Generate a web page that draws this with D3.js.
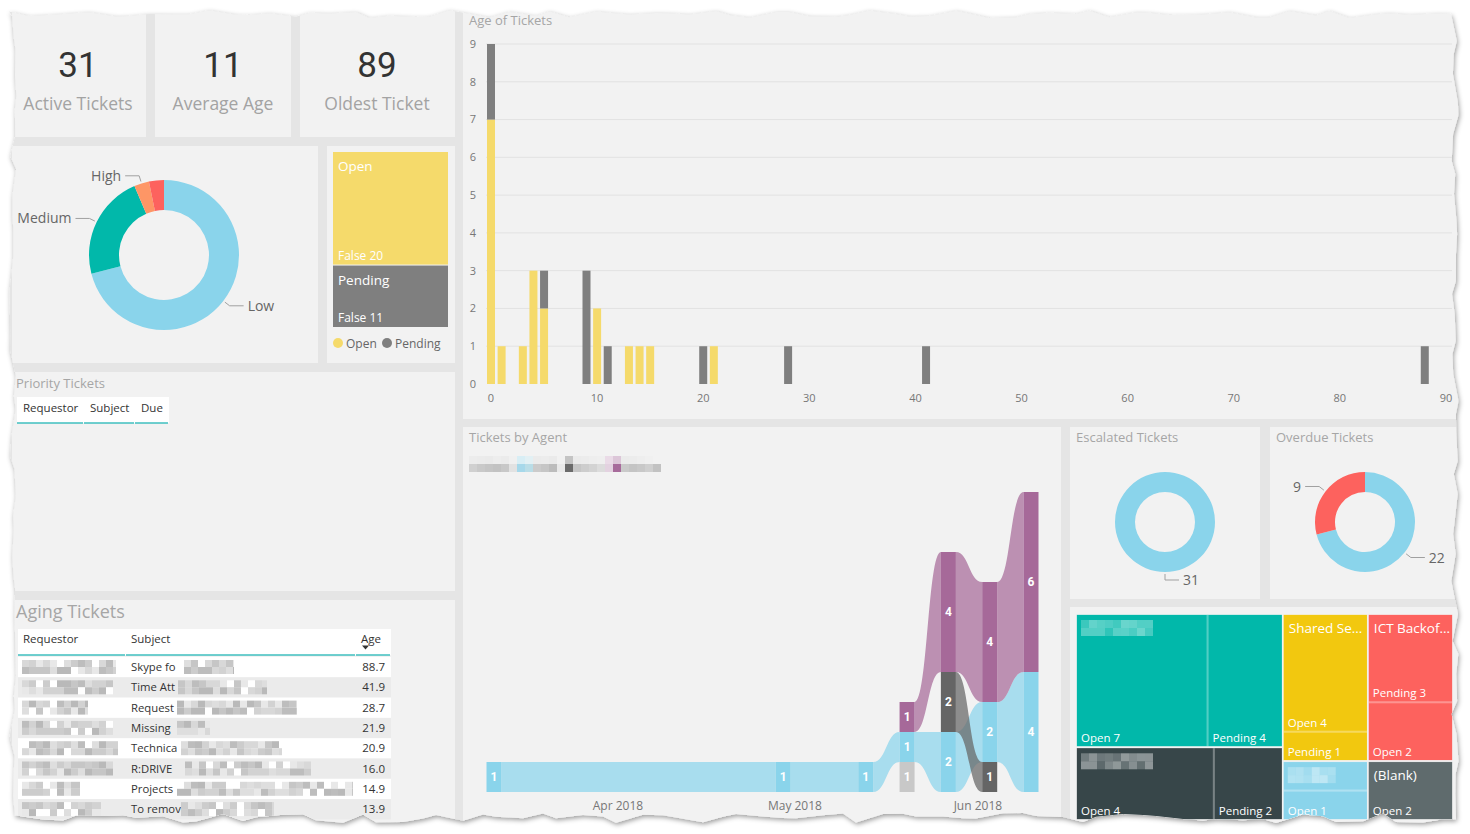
<!DOCTYPE html>
<html><head><meta charset="utf-8">
<script src="https://cdn.jsdelivr.net/npm/d3@7"></script>
<style>
html,body{margin:0;padding:0;background:#ffffff;}
svg{display:block;font-family:"Open Sans","Noto Sans",sans-serif;}
</style></head><body>
<svg id="chart" width="1470" height="834"></svg>
<script>
// ---------------- DATA ----------------
const kpiValues = [31, 11, 89];
const kpiLabels = ["Active Tickets", "Average Age", "Oldest Ticket"];

const priorityNames  = ["Low", "Medium", "High", "Critical"];
const priorityCounts = [22, 7, 1, 1];
const priorityShown  = [true, true, true, false];

const statusNames  = ["Open", "Pending"];
const statusSub    = ["False", "False"];
const statusCounts = [20, 11];

const ageBins    = [0, 1, 3, 4, 5, 9, 10, 11, 13, 14, 15, 20, 21, 28, 41, 88];
const ageOpen    = [7, 1, 1, 3, 2, 0, 2,  0,  1,  1,  1,  0,  1,  0,  0,  0];
const agePending = [2, 0, 0, 0, 1, 3, 0,  1,  0,  0,  0,  1,  0,  1,  1,  1];
const ageXTicks  = [0, 10, 20, 30, 40, 50, 60, 70, 80, 90];
const ageYTicks  = [0, 1, 2, 3, 4, 5, 6, 7, 8, 9];

const priorityColumns = ["Requestor", "Subject", "Due"];
const agingColumns    = ["Requestor", "Subject", "Age"];
const agingSubjects   = ["Skype fo", "Time Att", "Request", "Missing", "Technica", "R:DRIVE", "Projects", "To remov"];
const agingAges       = [88.7, 41.9, 28.7, 21.9, 20.9, 16.0, 14.9, 13.9];

const agentWeeks = ["2018-03-11", "2018-04-29", "2018-05-13", "2018-05-20", "2018-05-27", "2018-06-03", "2018-06-10"];
const agentD = [0, 0, 0, 1, 0, 0, 0];   // light grey agent
const agentA = [1, 1, 1, 1, 2, 2, 4];   // light blue agent
const agentC = [0, 0, 0, 0, 2, 1, 0];   // dark grey agent
const agentB = [0, 0, 0, 1, 4, 4, 6];   // purple agent

const escalatedCounts = [31];
const overdueNames  = ["On time", "Overdue"];
const overdueCounts = [22, 9];

const teamNames   = ["", "", "Shared Se...", "ICT Backof...", "", "(Blank)"];
const teamOpen    = [7, 4, 4, 2, 1, 2];
const teamPending = [4, 2, 1, 3, 1, 0];

// ---------------- STYLE ----------------
const C = {
  paper: "#e5e5e5", panel: "#f2f2f2", title: "#a6a6a6", axis: "#777777", grid: "#e2e2e2",
  yellow: "#F5DA6B", grey: "#7f7f7f",
  lowBlue: "#8AD4EB", teal: "#01B8AA", orange: "#FE9666", red: "#FD625E",
  purple: "#A66999", dark: "#656565", light: "#c8c8c8", tealLine: "#3fbfbf"
};
const priorityColors = [C.lowBlue, C.teal, C.orange, C.red];
const overdueColors = [C.lowBlue, C.red];
const teamColors = ["#01B8AA", "#374649", "#F2C80F", "#FD625E", "#8AD4EB", "#5F6B6D"];
const agentColors = [C.light, C.lowBlue, C.dark, C.purple];

const svg = d3.select("#chart");
const defs = svg.append("defs");

// deterministic hash in [-1,1] (decoration only)
function jag(i){ const v = Math.sin(i * 12.9898 + 78.233) * 43758.5453; return (v - Math.floor(v)) * 2 - 1; }

// ---------- torn paper ----------
function tornPath(){
  const pts = []; let i = 0;
  for (let x = 9; x < 1456; x += 13 + (i % 3) * 7) pts.push([x, 14 + jag(i++) * 4]);
  for (let y = 14; y < 818; y += 13 + (i % 3) * 7) pts.push([1455 + jag(i++) * 4, y]);
  for (let x = 1456; x > 12; x -= 13 + (i % 3) * 7) pts.push([x, 818 + jag(i++) * 5]);
  for (let y = 816; y > 14; y -= 13 + (i % 3) * 7) pts.push([13 + jag(i++) * 3.5, y]);
  return "M" + pts.map(p => p[0].toFixed(1) + "," + p[1].toFixed(1)).join("L") + "Z";
}
const paperD = tornPath();
const flt = defs.append("filter").attr("id", "sh").attr("x", "-3%").attr("y", "-3%").attr("width", "106%").attr("height", "106%");
flt.append("feDropShadow").attr("dx", 1).attr("dy", 2).attr("stdDeviation", 2.5).attr("flood-color", "#000").attr("flood-opacity", 0.4);
defs.append("clipPath").attr("id", "paperClip").append("path").attr("d", paperD);
svg.append("path").attr("d", paperD).attr("fill", C.paper).attr("filter", "url(#sh)");
const root = svg.append("g").attr("clip-path", "url(#paperClip)");

function panel(x, y, w, h){ root.append("rect").attr("x", x).attr("y", y).attr("width", w).attr("height", h).attr("fill", C.panel); }
function title(x, y, t, size){ return root.append("text").attr("x", x).attr("y", y).attr("font-size", size || 13).attr("fill", C.title).text(t); }

const grayShades = ["#c6c6c6", "#d2d2d2", "#bdbdbd", "#dedede", "#cccccc", "#e8e8e8", "#b9b9b9", "#d8d8d8", "#ffffff"];
function mosaic(g, x, y, w, h, seed, shades, cell){
  cell = cell || 7;
  for (let r = 0; r * cell < h; r++) for (let c = 0; c * cell < w; c++){
    const k = Math.floor((jag(seed * 97 + r * 31 + c * 7) + 1) / 2 * shades.length) % shades.length;
    g.append("rect").attr("x", x + c * cell).attr("y", y + r * cell)
      .attr("width", Math.min(cell, w - c * cell)).attr("height", Math.min(cell, h - r * cell)).attr("fill", shades[k]);
  }
}

// panels
[[12,8,134,129],[155,8,136,129],[300,8,155,129],[12,146,306,217],[327,146,128,217],[12,372,443,219],[12,600,443,232],
 [463,8,995,411],[463,427,598,407],[1070,427,190,172],[1270,427,190,172],[1070,607,392,227]].forEach(p => panel(...p));

// ---------- KPI cards ----------
const kpiCenters = [78, 223, 377];
kpiValues.forEach((v, i) => {
  root.append("text").attr("x", kpiCenters[i]).attr("y", 77).attr("text-anchor", "middle")
    .attr("font-family", "Roboto, sans-serif").attr("font-size", 35).attr("fill", "#333").text(v);
  root.append("text").attr("x", kpiCenters[i]).attr("y", 110).attr("text-anchor", "middle")
    .attr("font-size", 17.5).attr("fill", "#a3a3a3").text(kpiLabels[i]);
});

// ---------- donut helpers ----------
function leader(g, cx, cy, r, ang, txt, size){
  const s = Math.sin(ang), c = -Math.cos(ang);
  const p1 = [cx + s * (r + 2), cy + c * (r + 2)], p2 = [cx + s * (r + 8), cy + c * (r + 8)];
  const dir = s >= -1e-9 ? 1 : -1;
  const p3 = [p2[0] + dir * 14, p2[1]];
  g.append("polyline").attr("points", [p1, p2, p3].map(p => p.join(",")).join(" "))
    .attr("fill", "none").attr("stroke", "#a0a0a0").attr("stroke-width", 1);
  g.append("text").attr("x", p3[0] + dir * 4).attr("y", p3[1]).attr("dy", "0.36em")
    .attr("text-anchor", dir > 0 ? "start" : "end").attr("font-size", size || 14).attr("fill", "#666").text(txt);
}
function donut(cx, cy, r0, r1, values, colors, labels){
  const g = root.append("g");
  const arcs = d3.pie().sort(null).value(d => d)(values);
  const arc = d3.arc().innerRadius(r0).outerRadius(r1);
  g.selectAll("path").data(arcs).join("path").attr("transform", `translate(${cx},${cy})`)
    .attr("d", arc).attr("fill", (d, i) => colors[i]);
  arcs.forEach((a, i) => { if (labels[i] !== null) leader(g, cx, cy, r1, (a.startAngle + a.endAngle) / 2, labels[i]); });
}

// priority donut
donut(164, 255, 45, 75, priorityCounts, priorityColors, priorityNames.map((n, i) => priorityShown[i] ? n : null));

// ---------- status treemap ----------
{
  const h = d3.hierarchy({children: statusNames.map((n, i) => ({name: n, sub: statusSub[i], value: statusCounts[i], color: [C.yellow, C.grey][i]}))})
    .sum(d => d.value || 0);
  d3.treemap().tile(d3.treemapSlice).size([115, 175]).paddingInner(1)(h);
  const g = root.append("g").attr("transform", "translate(333,152)");
  h.leaves().forEach(l => {
    g.append("rect").attr("x", l.x0).attr("y", l.y0).attr("width", l.x1 - l.x0).attr("height", l.y1 - l.y0).attr("fill", l.data.color);
    g.append("text").attr("x", l.x0 + 5).attr("y", l.y0 + 19).attr("font-size", 13.5).attr("fill", "#fff").text(l.data.name);
    g.append("text").attr("x", l.x0 + 5).attr("y", l.y1 - 5).attr("font-size", 12).attr("fill", "#fff").text(l.data.sub + " " + l.data.value);
  });
  const lg = root.append("g");
  let lx = 338;
  statusNames.forEach((n, i) => {
    lg.append("circle").attr("cx", lx).attr("cy", 343).attr("r", 5).attr("fill", [C.yellow, C.grey][i]);
    lg.append("text").attr("x", lx + 8).attr("y", 347.5).attr("font-size", 12).attr("fill", "#666").text(n);
    lx += 49;
  });
}

// ---------- Priority tickets table ----------
title(16, 388, "Priority Tickets");
{
  const xs = [17, 84, 135, 169];
  root.append("rect").attr("x", 17).attr("y", 397).attr("width", 152).attr("height", 26).attr("fill", "#fff");
  priorityColumns.forEach((c, i) => {
    root.append("text").attr("x", xs[i] + 6).attr("y", 412).attr("font-size", 11.5).attr("fill", "#333").text(c);
    root.append("line").attr("x1", xs[i]).attr("x2", xs[i + 1] - 1).attr("y1", 423).attr("y2", 423).attr("stroke", C.tealLine).attr("stroke-width", 1.5);
  });
}

// ---------- Aging tickets table ----------
title(16, 618, "Aging Tickets", 18);
{
  const xs = [18, 126, 356, 391];
  root.append("rect").attr("x", 18).attr("y", 629).attr("width", 373).attr("height", 26).attr("fill", "#fff");
  const hx = [23, 131, 361];
  agingColumns.forEach((c, i) => {
    root.append("text").attr("x", hx[i]).attr("y", 643).attr("font-size", 11.5).attr("fill", "#333").text(c);
    root.append("line").attr("x1", xs[i]).attr("x2", xs[i + 1] - 1).attr("y1", 655).attr("y2", 655).attr("stroke", C.tealLine).attr("stroke-width", 1.5);
  });
  root.append("path").attr("d", "M362,645.5 L369,645.5 L365.5,649.5 Z").attr("fill", "#333");
  const reqW = [94, 91, 66, 91, 96, 91, 58, 79];
  const subW = [50, 89, 120, 33, 101, 126, 176, 93];
  const subX = [184, 178, 177, 177, 181, 185, 177, 181];
  const rowH = 20.3;
  const tg = root.append("g");
  agingAges.forEach((a, i) => {
    const y0 = 657 + i * rowH;
    tg.append("rect").attr("x", 18).attr("y", y0).attr("width", 373).attr("height", rowH).attr("fill", i % 2 ? "#ebebeb" : "#ffffff");
    mosaic(tg, 22, y0 + 3, reqW[i], 14, i + 1, grayShades, 7);
    tg.append("text").attr("x", 131).attr("y", y0 + 14).attr("font-size", 11.3).attr("fill", "#333").text(agingSubjects[i]);
    mosaic(tg, subX[i], y0 + 3, subW[i], 14, i + 20, grayShades, 7);
    tg.append("text").attr("x", 385).attr("y", y0 + 14).attr("text-anchor", "end").attr("font-size", 11.5).attr("fill", "#333").text(a.toFixed(1));
  });
}

// ---------- Age of tickets ----------
title(469, 25, "Age of Tickets");
{
  const x = d3.scaleLinear().domain([0, 90]).range([491, 1446]);
  const y = d3.scaleLinear().domain([0, 9]).range([384, 44]);
  const g = root.append("g");
  ageYTicks.forEach(t => {
    if (t > 0) g.append("line").attr("x1", 486).attr("x2", 1452).attr("y1", y(t)).attr("y2", y(t)).attr("stroke", C.grid);
    g.append("text").attr("x", 476).attr("y", y(t)).attr("dy", "0.35em").attr("text-anchor", "end").attr("font-size", 11).attr("fill", C.axis).text(t);
  });
  ageXTicks.forEach(t => {
    g.append("text").attr("x", x(t)).attr("y", 402).attr("text-anchor", "middle").attr("font-size", 11).attr("fill", C.axis).text(t);
  });
  ageBins.forEach((b, i) => {
    if (ageOpen[i] > 0) g.append("rect").attr("x", x(b) - 4).attr("width", 8).attr("y", y(ageOpen[i])).attr("height", y(0) - y(ageOpen[i])).attr("fill", C.yellow);
    if (agePending[i] > 0) g.append("rect").attr("x", x(b) - 4).attr("width", 8)
      .attr("y", y(ageOpen[i] + agePending[i])).attr("height", y(ageOpen[i]) - y(ageOpen[i] + agePending[i])).attr("fill", C.grey);
  });
}

// ---------- Tickets by agent (ribbon) ----------
title(469, 442, "Tickets by Agent");
{
  const legendTop = ["#ececec","#ebebeb","#eaeaea","#ededed","#ebebeb","#f0f0f0","#d8eef5","#e2f0f4","#ebebeb","#ececec","#eaeaea","#f1f1f1","#c4c4c4","#ebebeb","#ececec","#eeeeee","#efefef","#eadbe7","#dcc6d8","#ebebeb","#ececec","#eeeeee","#f0f0f0","#f2f2f2"];
  const legendRow = ["#d0d0d0","#c9c9c9","#c5c5c5","#c2c2c2","#c8c8c8","#e2e2e2","#a6d8ea","#b9dde7","#cbcbcb","#c6c6c6","#bcbcbc","#e9e9e9","#6b6b6b","#c6c6c6","#cdcdcd","#d3d3d3","#dcdcdc","#e3d2e0","#a76b9b","#cacaca","#c4c4c4","#c8c8c8","#cfcfcf","#c2c2c2"];
  legendRow.forEach((c, i) => {
    root.append("rect").attr("x", 469 + i * 8).attr("y", 456).attr("width", 8).attr("height", 8).attr("fill", legendTop[i]);
    root.append("rect").attr("x", 469 + i * 8).attr("y", 464).attr("width", 8).attr("height", 8).attr("fill", c);
  });

  const parse = d3.timeParse("%Y-%m-%d");
  const wk = agentWeeks.map(parse);
  const x = d3.scaleTime().domain([wk[0], wk[wk.length - 1]]).range([494, 1031]);
  const y = d3.scaleLinear().domain([0, 10]).range([792, 492]);
  const series = [agentD, agentA, agentC, agentB];
  const cols = wk.map((d, i) => {
    const items = series.map((s, si) => ({si, v: s[i]})).filter(o => o.v > 0).sort((a, b) => a.v - b.v || a.si - b.si);
    let acc = 0; items.forEach(o => { o.y0 = acc; acc += o.v; o.y1 = acc; });
    const m = {}; items.forEach(o => m[o.si] = o); return {items, m};
  });
  const half = 7.5;
  const g = root.append("g");
  series.forEach((s, si) => {
    for (let i = 0; i < wk.length - 1; i++){
      const a = cols[i].m[si], b = cols[i + 1].m[si];
      if (!a || !b) continue;
      const xa = x(wk[i]) + half, xb = x(wk[i + 1]) - half, xm = (xa + xb) / 2;
      const d = `M${xa},${y(a.y1)} C${xm},${y(a.y1)} ${xm},${y(b.y1)} ${xb},${y(b.y1)} L${xb},${y(b.y0)} C${xm},${y(b.y0)} ${xm},${y(a.y0)} ${xa},${y(a.y0)} Z`;
      g.append("path").attr("d", d).attr("fill", agentColors[si]).attr("fill-opacity", 0.72);
    }
  });
  cols.forEach((c, i) => {
    c.items.forEach(o => {
      g.append("rect").attr("x", x(wk[i]) - half).attr("width", half * 2).attr("y", y(o.y1)).attr("height", y(o.y0) - y(o.y1)).attr("fill", agentColors[o.si]);
      g.append("text").attr("x", x(wk[i])).attr("y", (y(o.y0) + y(o.y1)) / 2).attr("dy", "0.36em").attr("text-anchor", "middle")
        .attr("font-family", "Roboto, sans-serif").attr("font-weight", 700).attr("font-size", 12).attr("fill", "#fff").text(o.v);
    });
  });
  x.ticks(d3.timeMonth.every(1)).forEach(t => {
    g.append("text").attr("x", x(t)).attr("y", 810).attr("text-anchor", "middle").attr("font-size", 12).attr("fill", C.axis).text(d3.timeFormat("%b %Y")(t));
  });
}

// ---------- Escalated / Overdue donuts ----------
title(1076, 442, "Escalated Tickets");
donut(1165, 522, 30, 50, escalatedCounts, [C.lowBlue], escalatedCounts.map(String));
title(1276, 442, "Overdue Tickets");
donut(1365, 522, 30, 50, overdueCounts, overdueColors, overdueCounts.map(String));

// ---------- Team treemap ----------
{
  const data = {children: teamNames.map((n, i) => ({name: n, idx: i,
    children: [{name: "Pending", value: teamPending[i]}, {name: "Open", value: teamOpen[i]}].filter(c => c.value > 0)}))};
  const h = d3.hierarchy(data).sum(d => d.value || 0).sort((a, b) => b.value - a.value);
  d3.treemap().size([377, 206])(h);
  const g = root.append("g").attr("transform", "translate(1076,614)");
  h.children.forEach(grp => {
    const col = teamColors[grp.data.idx];
    g.append("rect").attr("x", grp.x0).attr("y", grp.y0).attr("width", grp.x1 - grp.x0).attr("height", grp.y1 - grp.y0).attr("fill", col);
    grp.children.forEach(ch => {
      g.append("rect").attr("x", ch.x0 + 0.5).attr("y", ch.y0 + 0.5).attr("width", ch.x1 - ch.x0 - 1).attr("height", ch.y1 - ch.y0 - 1)
        .attr("fill", "none").attr("stroke", "rgba(255,255,255,0.35)").attr("stroke-width", 1);
      const hidden = ch.y0 === grp.y0 && (ch.y1 - ch.y0) < 40;
      if (!hidden) g.append("text").attr("x", ch.x0 + 5).attr("y", ch.y1 - 5).attr("font-size", 11.5).attr("fill", "#fff").text(ch.data.name + " " + ch.data.value);
    });
    g.append("rect").attr("x", grp.x0).attr("y", grp.y0).attr("width", grp.x1 - grp.x0).attr("height", grp.y1 - grp.y0)
      .attr("fill", "none").attr("stroke", "#f2f2f2").attr("stroke-width", 1.5);
    if (grp.data.name) {
      g.append("text").attr("x", grp.x0 + 6).attr("y", grp.y0 + 19).attr("font-size", 13.5).attr("fill", "#fff").text(grp.data.name);
    } else {
      const w = grp.x1 - grp.x0 > 150 ? 72 : 42;
      const sub = g.append("g");
      for (let r = 0; r < 2; r++) for (let c = 0; c * 8 < w; c++) {
        sub.append("rect").attr("x", grp.x0 + 5 + c * 8).attr("y", grp.y0 + 6 + r * 8).attr("width", 8).attr("height", 8)
          .attr("fill", "#fff").attr("fill-opacity", 0.18 + 0.14 * (jag(grp.data.idx * 13 + r * 7 + c) + 1));
      }
    }
  });
}
</script></body></html>
